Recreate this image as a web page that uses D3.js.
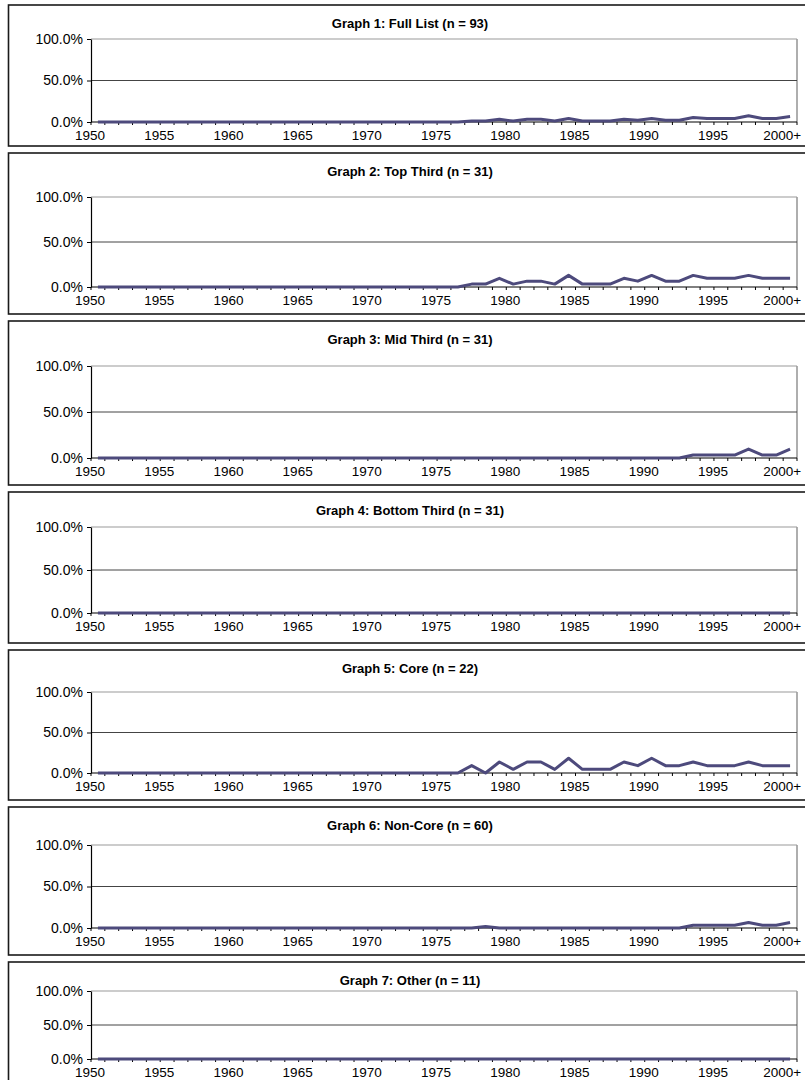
<!DOCTYPE html>
<html><head><meta charset="utf-8">
<script src="https://cdn.jsdelivr.net/npm/d3@7"></script>
<style>
body{margin:0;background:#fff}
svg{display:block}
text{font-family:"Liberation Sans",Arial,sans-serif;fill:#000}
</style>
</head><body>
<svg id="c" width="805" height="1080"></svg>
<script>
const categories = ["1950","1951","1952","1953","1954","1955","1956","1957","1958","1959",
"1960","1961","1962","1963","1964","1965","1966","1967","1968","1969",
"1970","1971","1972","1973","1974","1975","1976","1977","1978","1979",
"1980","1981","1982","1983","1984","1985","1986","1987","1988","1989",
"1990","1991","1992","1993","1994","1995","1996","1997","1998","1999","2000+"];
const tickLabels = ["1950","1955","1960","1965","1970","1975","1980","1985","1990","1995","2000+"];
const yTicks = [0, 50, 100];
const titles = ["Graph 1: Full List (n = 93)","Graph 2: Top Third (n = 31)","Graph 3: Mid Third (n = 31)",
"Graph 4: Bottom Third (n = 31)","Graph 5: Core (n = 22)","Graph 6: Non-Core (n = 60)","Graph 7: Other (n = 11)"];

// values in percent, 1950 .. 2000+
const fullList = [0,0,0,0,0,0,0,0,0,0, 0,0,0,0,0,0,0,0,0,0, 0,0,0,0,0,0,0,
 1.1,1.1,3.2,1.1,3.2,3.2,1.1,4.3,1.1,1.1,1.1,3.2,2.2,4.3,2.2,2.2,5.4,4.3,4.3,4.3,7.5,4.3,4.3,6.5];
const topThird = [0,0,0,0,0,0,0,0,0,0, 0,0,0,0,0,0,0,0,0,0, 0,0,0,0,0,0,0,
 3.2,3.2,9.7,3.2,6.5,6.5,3.2,12.9,3.2,3.2,3.2,9.7,6.5,12.9,6.5,6.5,12.9,9.7,9.7,9.7,12.9,9.7,9.7,9.7];
const midThird = [0,0,0,0,0,0,0,0,0,0, 0,0,0,0,0,0,0,0,0,0, 0,0,0,0,0,0,0,
 0,0,0,0,0,0,0,0,0,0,0,0,0,0,0,0,3.2,3.2,3.2,3.2,9.7,3.2,3.2,9.7];
const bottomThird = [0,0,0,0,0,0,0,0,0,0, 0,0,0,0,0,0,0,0,0,0, 0,0,0,0,0,0,0,
 0,0,0,0,0,0,0,0,0,0,0,0,0,0,0,0,0,0,0,0,0,0,0,0];
const core = [0,0,0,0,0,0,0,0,0,0, 0,0,0,0,0,0,0,0,0,0, 0,0,0,0,0,0,0,
 9.1,0,13.6,4.5,13.6,13.6,4.5,18.2,4.5,4.5,4.5,13.6,9.1,18.2,9.1,9.1,13.6,9.1,9.1,9.1,13.6,9.1,9.1,9.1];
const nonCore = [0,0,0,0,0,0,0,0,0,0, 0,0,0,0,0,0,0,0,0,0, 0,0,0,0,0,0,0,
 0,1.7,0,0,0,0,0,0,0,0,0,0,0,0,0,0,3.3,3.3,3.3,3.3,6.7,3.3,3.3,6.7];
const other = [0,0,0,0,0,0,0,0,0,0, 0,0,0,0,0,0,0,0,0,0, 0,0,0,0,0,0,0,
 0,0,0,0,0,0,0,0,0,0,0,0,0,0,0,0,0,0,0,0,0,0,0,0];
const seriesList = [fullList, topThird, midThird, bottomThird, core, nonCore, other];

// layout
const panelTop    = [5, 153, 321, 492, 650, 807, 962];
const panelBottom = [146, 314, 485, 643, 800, 955, 1110];
const plotTop     = [39, 197, 366, 527, 692, 845, 991];
const plotBottom  = [122, 287, 458, 613, 773, 928, 1059];
const plotLeft = 91, plotRight = 797;
const lineColor = "#4d4a7c";

const svg = d3.select("#c");
const x = d3.scaleBand().domain(categories).range([plotLeft, plotRight]).padding(0);
const xc = d => x(d) + x.bandwidth() / 2;

seriesList.forEach((vals, i) => {
  const g = svg.append("g");
  g.append("rect").attr("x", 8.5).attr("y", panelTop[i]).attr("width", 830)
    .attr("height", panelBottom[i] - panelTop[i]).attr("fill", "#fff")
    .attr("stroke", "#1a1a1a").attr("stroke-width", 1.6);
  g.append("text").attr("x", 410).attr("y", panelTop[i] + 18).attr("dy", "0.35em")
    .attr("text-anchor", "middle").attr("font-weight", "bold").attr("font-size", 13)
    .text(titles[i]);

  const y = d3.scaleLinear().domain([0, 100]).range([plotBottom[i], plotTop[i]]);

  g.append("line").attr("x1", plotLeft).attr("x2", plotRight)
    .attr("y1", y(100)).attr("y2", y(100)).attr("stroke", "#9a9a9a").attr("stroke-width", 1.2);
  g.append("line").attr("x1", plotRight).attr("x2", plotRight)
    .attr("y1", y(100)).attr("y2", y(0)).attr("stroke", "#9a9a9a").attr("stroke-width", 1.6);
  g.append("line").attr("x1", plotLeft).attr("x2", plotRight)
    .attr("y1", y(50)).attr("y2", y(50)).attr("stroke", "#444").attr("stroke-width", 1);

  const ya = g.append("g").attr("transform", `translate(${plotLeft},0)`)
    .call(d3.axisLeft(y).tickValues(yTicks).tickFormat(d => d.toFixed(1) + "%")
      .tickSize(4).tickSizeOuter(0).tickPadding(4));
  ya.select(".domain").attr("stroke", "#000").attr("stroke-width", 1.2);
  ya.selectAll(".tick line").attr("stroke", "#000");
  ya.selectAll(".tick text").attr("font-size", 14).attr("font-family", "Liberation Sans, Arial, sans-serif");

  g.append("line").attr("x1", plotLeft).attr("x2", plotRight)
    .attr("y1", y(0)).attr("y2", y(0)).attr("stroke", "#000").attr("stroke-width", 1.2);
  const bounds = categories.map(c => x(c)).concat([plotRight]);
  g.selectAll(".xt").data(bounds).join("line")
    .attr("x1", d => d).attr("x2", d => d)
    .attr("y1", y(0)).attr("y2", y(0) + 3).attr("stroke", "#000").attr("stroke-width", 1);
  g.selectAll(".xl").data(tickLabels).join("text")
    .attr("x", d => x(d) - 1).attr("y", y(0) + 13).attr("dy", "0.35em")
    .attr("text-anchor", "middle").attr("font-size", 13.5).text(d => d);

  const line = d3.line().x((d, k) => xc(categories[k])).y(d => y(d));
  g.append("path").datum(vals).attr("d", line).attr("fill", "none")
    .attr("stroke", lineColor).attr("stroke-width", 3).attr("stroke-linejoin", "round");
});
</script>
</body></html>
